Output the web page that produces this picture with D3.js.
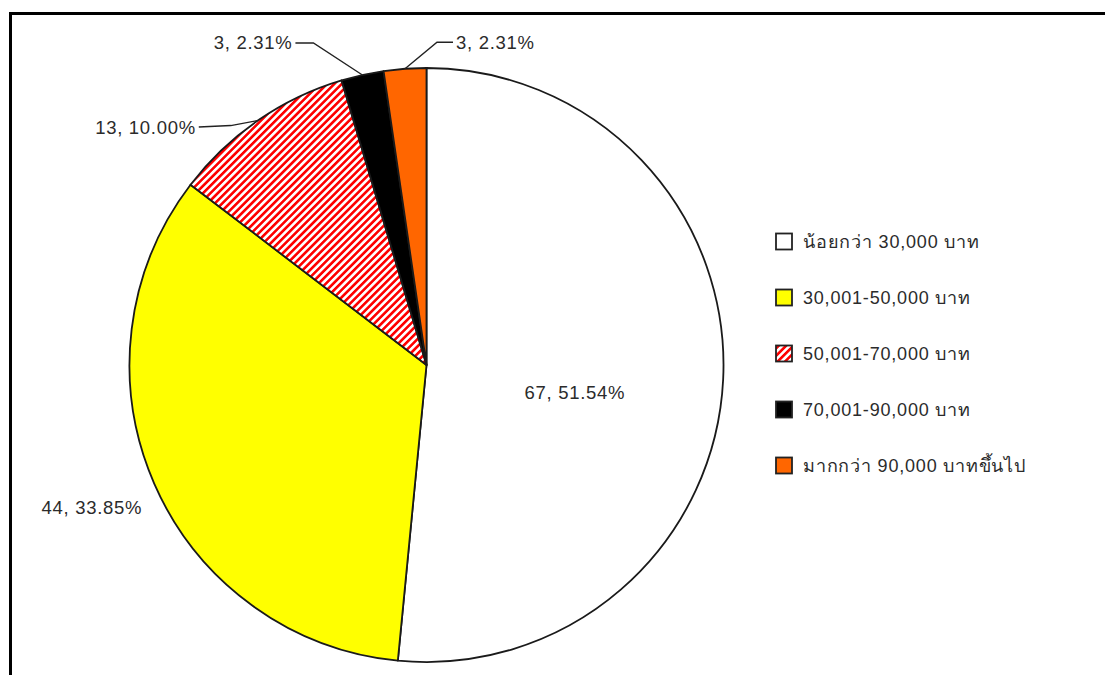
<!DOCTYPE html>
<html>
<head>
<meta charset="utf-8">
<script src="https://cdn.jsdelivr.net/npm/d3@7"></script>
<style>
  html, body { margin: 0; padding: 0; background: #fff; }
  svg { display: block; }
  text { font-family: "Liberation Sans", Arial, "Noto Sans", sans-serif; fill: #2b2b2b; }
</style>
</head>
<body>
<svg id="chart" width="1105" height="675"></svg>
<script>
// Income brackets (Thai baht) and respondent counts
const categories = [
  "น้อยกว่า 30,000 บาท",
  "30,001-50,000 บาท",
  "50,001-70,000 บาท",
  "70,001-90,000 บาท",
  "มากกว่า 90,000 บาทขึ้นไป"
];
const counts = [67, 44, 13, 3, 3];
const percents = [51.54, 33.85, 10.00, 2.31, 2.31];
const fills = ["#ffffff", "#ffff00", "url(#hatch)", "#000000", "#ff6600"];

const W = 1105, H = 675;
const cx = 426.5, cy = 365, R = 297;

const svg = d3.select("#chart");

// red diagonal hatch for the 50,001-70,000 slice
const defs = svg.append("defs");
const pat = defs.append("pattern")
  .attr("id", "hatch")
  .attr("patternUnits", "userSpaceOnUse")
  .attr("width", 5.2).attr("height", 5.2)
  .attr("patternTransform", "rotate(45)");
pat.append("rect").attr("width", 5.2).attr("height", 5.2).attr("fill", "#fff");
pat.append("rect").attr("width", 2.6).attr("height", 5.2).attr("fill", "#ff0000");

// frame (top and left edges)
svg.append("path")
  .attr("d", `M10.5,${H} V13.5 H${W}`)
  .attr("fill", "none").attr("stroke", "#000").attr("stroke-width", 3);

const data = categories.map((c, i) => ({ cat: c, value: counts[i], pct: percents[i], fill: fills[i] }));

const pie = d3.pie().sort(null).value(d => d.value);
const arcs = pie(data);
const arc = d3.arc().innerRadius(0).outerRadius(R);

const g = svg.append("g").attr("transform", `translate(${cx},${cy})`);

g.selectAll("path.slice")
  .data(arcs)
  .join("path")
  .attr("class", "slice")
  .attr("d", arc)
  .attr("fill", d => d.data.fill)
  .attr("stroke", "#1a1a1a")
  .attr("stroke-width", 1.8)
  .attr("stroke-linejoin", "round");

// label placement: inside / plain outside / leader line with elbow
// offsets are measured from the point on the rim at the slice's mid angle
const labelLayout = [
  { mode: "inside", dx: 0, dy: 20 },
  { mode: "outside", tx: -12, ty: 24, anchor: "end" },
  { mode: "leader", elbow: [-27, 5], end: [-59, 6.5], tx: -62, anchor: "end" },
  { mode: "leader", elbow: [-49, -32], end: [-67, -32], tx: -70, anchor: "end" },
  { mode: "leader", elbow: [32, -26.5], end: [48, -26.5], tx: 51, anchor: "start" }
];

const fmt = d => `${d.data.value}, ${d.data.pct.toFixed(2)}%`;
const LBL_SIZE = 18.5, LBL_SPACING = 0.7;

function addLabel(x, y, anchor, a) {
  g.append("text")
    .attr("x", x).attr("y", y)
    .attr("text-anchor", anchor).attr("dy", "0.35em")
    .attr("font-size", LBL_SIZE)
    .attr("letter-spacing", LBL_SPACING)
    .text(fmt(a));
}

arcs.forEach((a, i) => {
  const L = labelLayout[i];
  const mid = (a.startAngle + a.endAngle) / 2;
  const rim = [Math.sin(mid) * R, -Math.cos(mid) * R];
  if (L.mode === "inside") {
    const c = arc.centroid(a);
    addLabel(c[0] + L.dx, c[1] + L.dy, "middle", a);
  } else if (L.mode === "outside") {
    addLabel(rim[0] + L.tx, rim[1] + L.ty, L.anchor, a);
  } else {
    const p1 = [rim[0] + L.elbow[0], rim[1] + L.elbow[1]];
    const p2 = [rim[0] + L.end[0], rim[1] + L.end[1]];
    g.append("path")
      .attr("d", d3.line()([rim, p1, p2]))
      .attr("fill", "none").attr("stroke", "#222").attr("stroke-width", 1.4);
    addLabel(rim[0] + L.tx, p2[1], L.anchor, a);
  }
});

// legend
const legend = svg.append("g").attr("transform", "translate(776,242)");
const rows = legend.selectAll("g.row")
  .data(data)
  .join("g")
  .attr("class", "row")
  .attr("transform", (d, i) => `translate(0,${i * 56})`);

rows.append("rect")
  .attr("x", 0).attr("y", -8.5)
  .attr("width", 16).attr("height", 16)
  .attr("fill", d => d.fill)
  .attr("stroke", "#222").attr("stroke-width", 1.8);

rows.append("text")
  .attr("x", 27).attr("y", 0).attr("dy", "0.35em")
  .attr("font-size", 18)
  .attr("letter-spacing", 0.8)
  .text(d => d.cat);
</script>
</body>
</html>
